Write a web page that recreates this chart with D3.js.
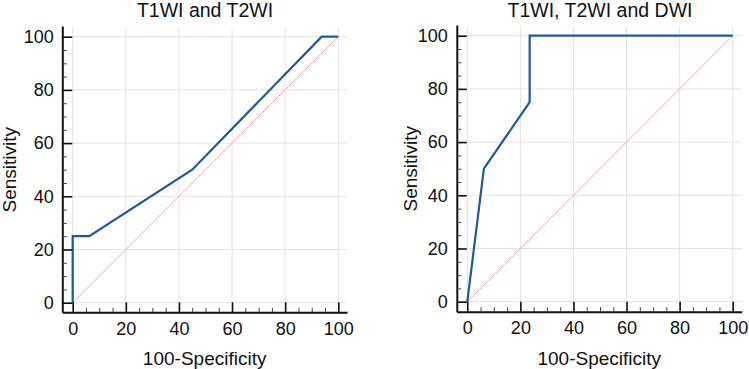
<!DOCTYPE html>
<html>
<head>
<meta charset="utf-8">
<script src="https://cdn.jsdelivr.net/npm/d3@7"></script>
<style>
  html, body { margin: 0; padding: 0; background: #fff; }
  svg { display: block; }
  text { font-family: "Liberation Sans", Arial, sans-serif; fill: #111; }
</style>
</head>
<body>
<svg id="chart" width="749" height="369"></svg>
<script>
// ---- data ----
const panelTitles = ["T1WI and T2WI", "T1WI, T2WI and DWI"];
const roc1X = [0, 0, 6.25, 45, 93.75, 100];
const roc1Y = [0, 25, 25, 50, 100, 100];
const roc2X = [0, 6.25, 23.5, 23.5, 100];
const roc2Y = [0, 50, 75, 100, 100];
const majorTicks = [0, 20, 40, 60, 80, 100];
const minorTicks = d3.range(0, 101, 5).filter(v => v % 20 !== 0);
const xLabel = "100-Specificity";
const yLabel = "Sensitivity";

const svg = d3.select("#chart");

const panels = [
  { title: panelTitles[0], xs: roc1X, ys: roc1Y,
    axisX: 62.3, x0: 72.7, x100: 338.3, gridR: 347,
    axisY: 312.3, y0: 302.7, y100: 36.7, gridT: 28, axisTop: 26,
    titleX: 205, yLabelBase: 15.5, yPad: 8.5 },
  { title: panelTitles[1], xs: roc2X, ys: roc2Y,
    axisX: 456.8, x0: 467.3, x100: 732.7, gridR: 741.7,
    axisY: 311.7, y0: 301.7, y100: 35.7, gridT: 27, axisTop: 25,
    titleX: 600, yLabelBase: 416.5, yPad: 9 }
];

const FONT = "'Liberation Sans', Arial, sans-serif";

panels.forEach(p => {
  const g = svg.append("g");
  const x = d3.scaleLinear().domain([0, 100]).range([p.x0, p.x100]);
  const y = d3.scaleLinear().domain([0, 100]).range([p.y0, p.y100]);

  // grid
  g.append("g").selectAll("line").data(majorTicks).join("line")
    .attr("x1", d => x(d)).attr("x2", d => x(d))
    .attr("y1", p.gridT).attr("y2", p.axisY)
    .attr("stroke", "#e3e3e3").attr("stroke-width", 1);
  g.append("g").selectAll("line").data(majorTicks).join("line")
    .attr("y1", d => y(d)).attr("y2", d => y(d))
    .attr("x1", p.axisX).attr("x2", p.gridR)
    .attr("stroke", "#e3e3e3").attr("stroke-width", 1);

  // diagonal reference
  g.append("line")
    .attr("x1", x(0)).attr("y1", y(0)).attr("x2", x(100)).attr("y2", y(100))
    .attr("stroke", "#e9a3a3").attr("stroke-width", 0.9);

  // ROC curve
  const pts = p.xs.map((v, i) => [v, p.ys[i]]);
  g.append("path")
    .attr("d", d3.line().x(d => x(d[0])).y(d => y(d[1]))(pts))
    .attr("fill", "none").attr("stroke", "#1d57a5").attr("stroke-width", 2.2)
    .attr("stroke-linejoin", "miter");

  // axes with extended domain
  const xAxisScale = x.copy().domain([x.invert(p.axisX), x.invert(p.gridR)]).range([p.axisX, p.gridR]);
  const yAxisScale = y.copy().domain([y.invert(p.axisY), y.invert(p.axisTop)]).range([p.axisY, p.axisTop]);

  const xa = g.append("g").attr("transform", `translate(0,${p.axisY})`)
    .call(d3.axisBottom(xAxisScale).tickValues(majorTicks).tickSizeInner(-10).tickSizeOuter(0).tickPadding(9.5));
  xa.select(".domain").attr("stroke", "#111").attr("stroke-width", 2);
  xa.selectAll(".tick line").attr("stroke", "#111").attr("stroke-width", 1.6);
  xa.selectAll(".tick text").style("font-size", "18px").attr("fill", "#111").style("font-family", FONT);
  const xm = g.append("g").attr("transform", `translate(0,${p.axisY})`)
    .call(d3.axisBottom(xAxisScale).tickValues(minorTicks).tickSizeInner(-4.5).tickSizeOuter(0).tickFormat(""));
  xm.select(".domain").remove();
  xm.selectAll(".tick line").attr("stroke", "#444").attr("stroke-width", 1);

  const ya = g.append("g").attr("transform", `translate(${p.axisX},0)`)
    .call(d3.axisLeft(yAxisScale).tickValues(majorTicks).tickSizeInner(-10).tickSizeOuter(0).tickPadding(p.yPad));
  ya.select(".domain").attr("stroke", "#111").attr("stroke-width", 2);
  ya.selectAll(".tick line").attr("stroke", "#111").attr("stroke-width", 1.6);
  ya.selectAll(".tick text").style("font-size", "18px").attr("fill", "#111").style("font-family", FONT);
  const ym = g.append("g").attr("transform", `translate(${p.axisX},0)`)
    .call(d3.axisLeft(yAxisScale).tickValues(minorTicks).tickSizeInner(-4.5).tickSizeOuter(0).tickFormat(""));
  ym.select(".domain").remove();
  ym.selectAll(".tick line").attr("stroke", "#444").attr("stroke-width", 1);

  // title
  g.append("text").attr("x", p.titleX).attr("y", 16.5)
    .attr("text-anchor", "middle").style("font-size", "19.5px").attr("fill", "#222")
    .text(p.title);
  // x label
  g.append("text").attr("x", (p.axisX + p.gridR) / 2).attr("y", 364.5)
    .attr("text-anchor", "middle").style("font-size", "19px")
    .text(xLabel);
  // y label
  g.append("text")
    .attr("transform", `translate(${p.yLabelBase},${(p.y0 + p.y100) / 2}) rotate(-90)`)
    .attr("text-anchor", "middle").style("font-size", "19px")
    .text(yLabel);
});
</script>
</body>
</html>
